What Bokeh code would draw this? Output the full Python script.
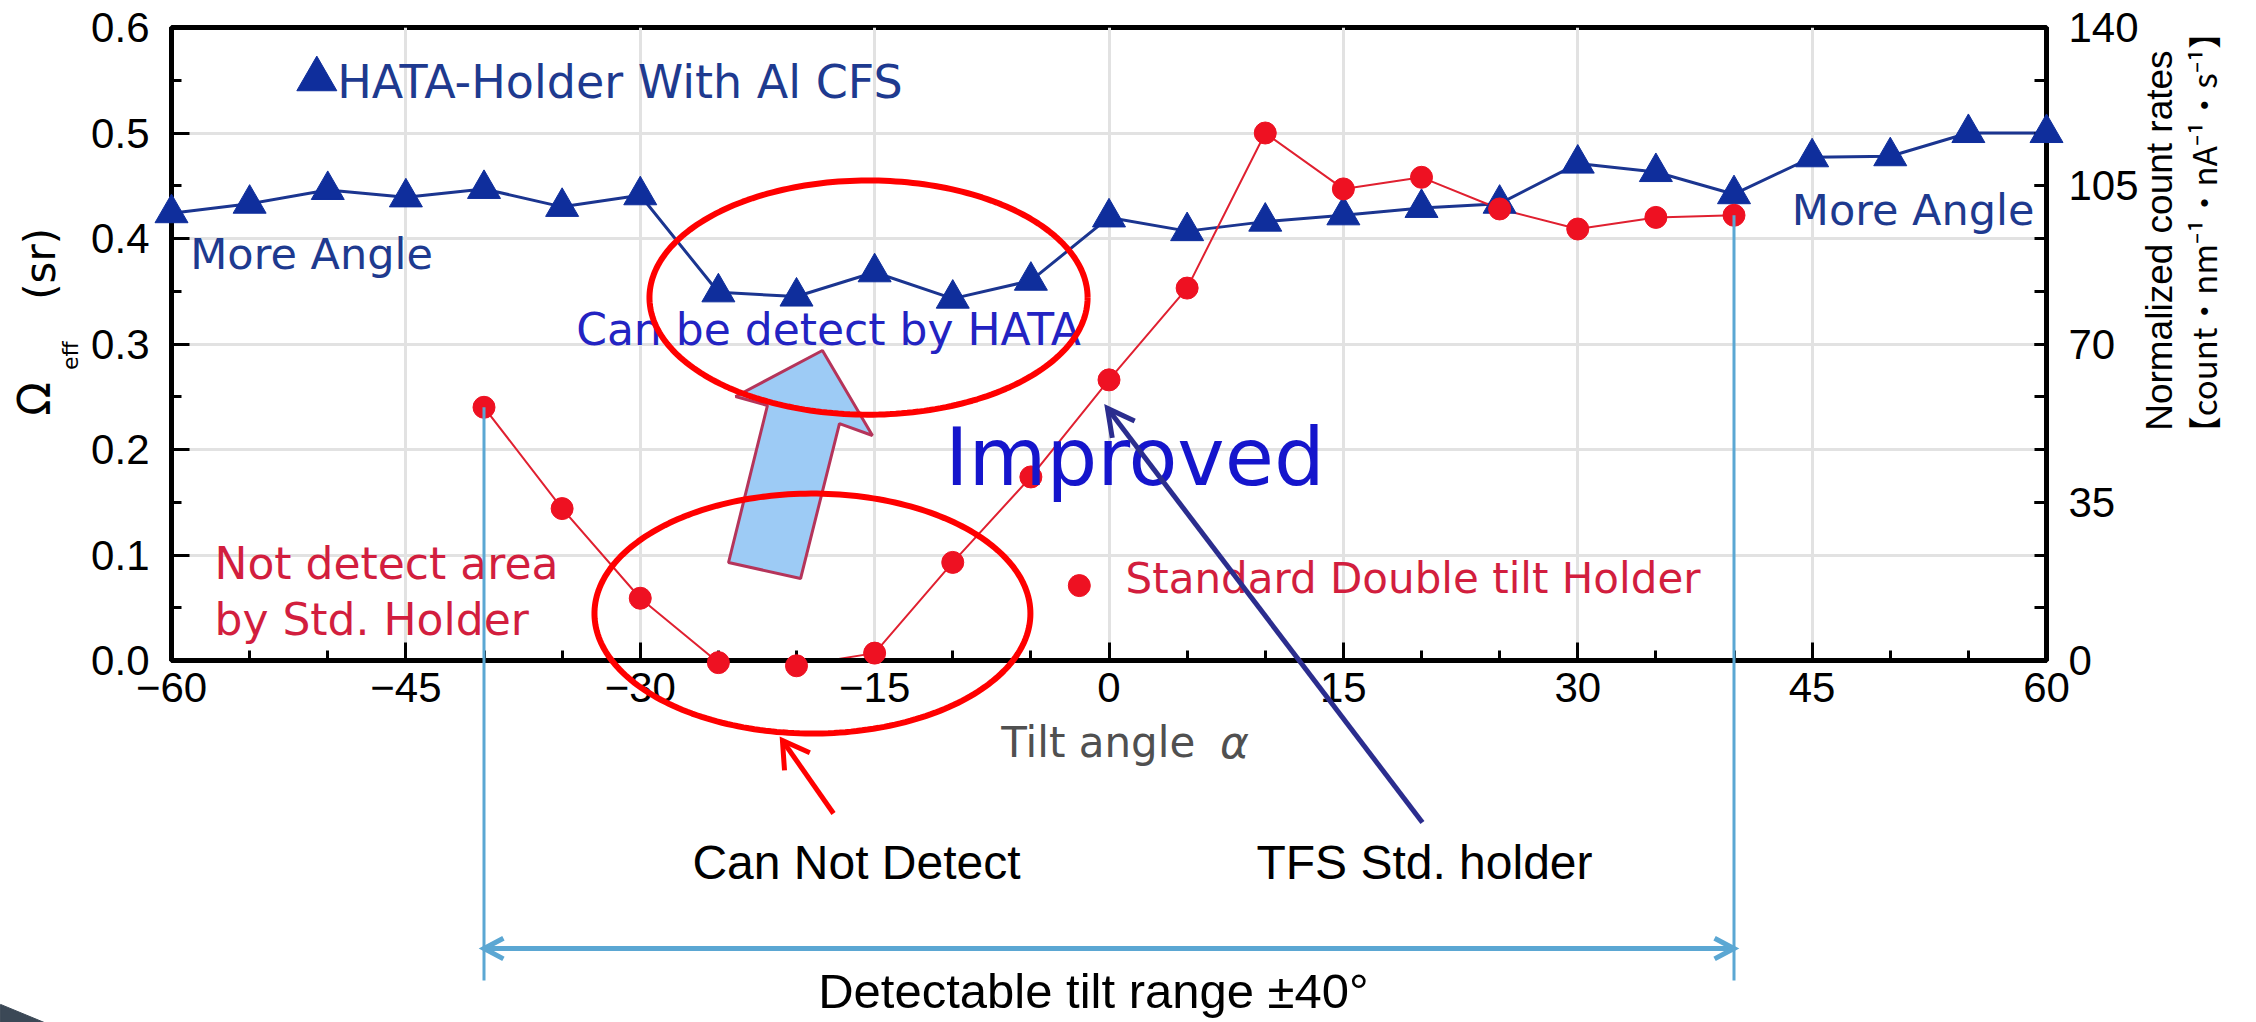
import numpy as np
from bokeh.plotting import figure
from bokeh.models import Range1d, LinearAxis, FixedTicker, NumeralTickFormatter
from bokeh.core.properties import value
from bokeh.embed import file_html
from bokeh.resources import INLINE

# ---------------- data ----------------
angles_hata = [-60, -55, -50, -45, -40, -35, -30, -25, -20, -15, -10, -5, 0,
               5, 10, 15, 20, 25, 30, 35, 40, 45, 50, 55, 60]
omega_hata = [0.424, 0.433, 0.446, 0.439, 0.447, 0.430, 0.441, 0.349, 0.345, 0.368,
              0.343, 0.360, 0.420, 0.407, 0.416, 0.422, 0.429, 0.433, 0.471, 0.463,
              0.442, 0.477, 0.478, 0.500, 0.500]

angles_std = [-40, -35, -30, -25, -20, -15, -10, -5, 0, 5, 10, 15, 20, 25, 30, 35, 40]
omega_std = [0.240, 0.144, 0.059, -0.002, -0.005, 0.007, 0.093, 0.174, 0.266, 0.353,
             0.500, 0.447, 0.458, 0.428, 0.409, 0.420, 0.422]

x_ticks = [-60, -45, -30, -15, 0, 15, 30, 45, 60]
x_tick_labels = ["\u221260", "\u221245", "\u221230", "\u221215", "0", "15", "30", "45", "60"]
y_ticks = [0.0, 0.1, 0.2, 0.3, 0.4, 0.5, 0.6]
right_ticks = [0, 35, 70, 105, 140]

HATA_BLUE = "#0f2e9c"
NAVY_TEXT = "#1e3a8f"
RED = "#ee1122"
RED_TEXT = "#d21e3e"
LIGHT_BLUE = "#5ba7d3"

FRAME_W, FRAME_H = 1875, 633
p = figure(frame_width=FRAME_W, frame_height=FRAME_H,
           x_range=Range1d(-60, 60), y_range=Range1d(0, 0.6),
           output_backend="svg", toolbar_location=None, title=None,
           min_border_left=171, min_border_right=194, min_border_top=27,
           min_border_bottom=362, background_fill_color="white",
           border_fill_color="white")
p.extra_y_ranges = {"right": Range1d(0, 140)}

p.outline_line_color = "black"
p.outline_line_width = 5

# grids
p.xgrid.ticker = FixedTicker(ticks=x_ticks)
p.ygrid.ticker = FixedTicker(ticks=y_ticks)
for g in (p.xgrid, p.ygrid):
    g.grid_line_color = "#e2e2e2"
    g.grid_line_width = 3

def style_axis(ax, standoff):
    ax.axis_line_width = 5
    ax.axis_line_color = "black"
    ax.major_tick_in = 18
    ax.major_tick_out = 0
    ax.minor_tick_in = 10
    ax.minor_tick_out = 0
    ax.major_tick_line_width = 3
    ax.minor_tick_line_width = 3
    ax.major_label_text_font = "Liberation Sans"
    ax.major_label_text_font_size = "42px"
    ax.major_label_text_color = "black"
    ax.major_label_standoff = standoff

xa = p.xaxis[0]
xa.ticker = FixedTicker(ticks=x_ticks, minor_ticks=list(range(-60, 61, 5)))
xa.major_label_overrides = {t: l for t, l in zip(x_ticks, x_tick_labels)}
style_axis(xa, 12)

ya = p.yaxis[0]
ya.ticker = FixedTicker(ticks=y_ticks, minor_ticks=[i * 0.05 for i in range(13)])
ya.formatter = NumeralTickFormatter(format="0.0")
style_axis(ya, 22)

ra = LinearAxis(y_range_name="right",
                ticker=FixedTicker(ticks=right_ticks, minor_ticks=[140 * i / 12 for i in range(13)]))
style_axis(ra, 22)
ra.minor_tick_in = 12
ra.major_tick_in = 12
p.add_layout(ra, "right")

# ---------------- series ----------------
p.line(angles_hata, omega_hata, line_color="#1b3590", line_width=3)
p.line(angles_std, omega_std, line_color="#e02030", line_width=2)
p.scatter(angles_hata, omega_hata, marker="triangle", size=33,
          fill_color=HATA_BLUE, line_color=HATA_BLUE, level="overlay")
p.scatter(angles_std, omega_std, marker="circle", size=22, fill_color=RED, line_color=RED,
          level="overlay")

# ---------------- annotation helpers ----------------
PX_X = FRAME_W / 120.0   # pixels per degree
PX_Y = FRAME_H / 0.6     # pixels per unit

def txt(x, y, s, size, color, font="DejaVu Sans", align="left", baseline="middle",
        angle=0.0, style="normal"):
    p.text(x=[x], y=[y], text=[s], text_font=value(font), text_font_size=value(f"{size}px"),
           text_color=color, text_align=align, text_baseline=baseline, angle=angle,
           text_font_style=style, level="overlay")

def head_pts(xs, ys, xe, ye, length, half_angle_deg):
    p0 = np.array([xs * PX_X, ys * PX_Y])
    p1 = np.array([xe * PX_X, ye * PX_Y])
    u = (p0 - p1) / np.linalg.norm(p0 - p1)
    a = np.radians(half_angle_deg)
    pts = []
    for s in (1, -1):
        c, sn = np.cos(s * a), np.sin(s * a)
        v = np.array([c * u[0] - sn * u[1], sn * u[0] + c * u[1]])
        pts.append(p1 + length * v)
    hx = [pts[0][0] / PX_X, xe, pts[1][0] / PX_X]
    hy = [pts[0][1] / PX_Y, ye, pts[1][1] / PX_Y]
    return hx, hy

def arrow(xs, ys, xe, ye, color, width, length, half_angle, both=False):
    p.line([xs, xe], [ys, ye], line_color=color, line_width=width, level="overlay")
    hx, hy = head_pts(xs, ys, xe, ye, length, half_angle)
    p.line(hx, hy, line_color=color, line_width=width, line_join="miter", level="overlay")
    if both:
        hx, hy = head_pts(xe, ye, xs, ys, length, half_angle)
        p.line(hx, hy, line_color=color, line_width=width, line_join="miter", level="overlay")

# legend-like texts
p.scatter([-50.7], [0.551], marker="triangle", size=40, fill_color=HATA_BLUE,
          line_color=HATA_BLUE, level="overlay")
txt(-49.4, 0.5488, "HATA-Holder With Al CFS", 46, NAVY_TEXT)
txt(-58.8, 0.3853, "More Angle", 43, NAVY_TEXT)
txt(43.7, 0.427, "More Angle", 43, NAVY_TEXT)
txt(-34.1, 0.3137, "Can be detect by HATA", 44, "#2323c2")
txt(-10.5, 0.192, "Improved", 80, "#1515cc")
txt(-57.25, 0.0915, "Not detect area", 44, RED_TEXT)
txt(-57.25, 0.0389, "by Std. Holder", 44, RED_TEXT)
p.scatter([-1.9], [0.071], marker="circle", size=22, fill_color=RED, line_color=RED,
          level="overlay")
txt(1.06, 0.0777, "Standard Double tilt Holder", 42, RED_TEXT)

# axis titles
txt(-6.9, -0.0773, "Tilt angle", 42, "#505050")
txt(7.1, -0.0773, "\u03b1", 44, "#505050", style="italic")
txt(-68.77, 0.248, "\u03a9", 44, "black", align="center", angle=np.pi / 2)
txt(-66.46, 0.289, "eff", 22, "black", align="center", angle=np.pi / 2)
txt(-68.38, 0.376, "(sr)", 42, "black", align="center", angle=np.pi / 2)
txt(67.2, 0.398, "Normalized count rates", 37, "black", font="Liberation Sans",
    align="center", angle=np.pi / 2)
txt(70.0, 0.4057, "\u3010count\u30fbnm\u207b\u00b9\u30fbnA\u207b\u00b9\u30fbs\u207b\u00b9\u3011", 33,
    "black", font="Noto Sans CJK JP", align="center", angle=np.pi / 2)

# block arrow (light blue)
p.patch([-18.34, -15.14, -17.25, -19.74, -24.35, -21.86, -23.9],
        [0.2938, 0.2133, 0.2246, 0.0777, 0.0929, 0.2417, 0.2502],
        fill_color="#9dcbf5", line_color="#b5345a", line_width=3, level="overlay")

# red ellipses
t = np.linspace(0, 2 * np.pi, 240)
for cx, cy, rx, ry in [(-15.39, 0.344, 14.02, 0.111), (-18.98, 0.0445, 13.95, 0.1137)]:
    p.line(list(cx + rx * np.cos(t)), list(cy + ry * np.sin(t)),
           line_color="#ff0000", line_width=6, level="overlay")

# arrows to the bottom texts
arrow(-17.63, -0.145, -20.9, -0.0758, "#ff0000", 5, 30, 31)
arrow(20.06, -0.1536, -0.1, 0.239, "#2b2d8e", 5, 30, 28)

# detectable range markers
for xv, yv in [(-40, 0.240), (40, 0.422)]:
    p.line([xv, xv], [yv, -0.3033], line_color=LIGHT_BLUE, line_width=3, level="overlay")
arrow(-40, -0.273, 40, -0.273, LIGHT_BLUE, 5, 22, 28, both=True)

txt(-16.16, -0.191, "Can Not Detect", 48, "black", font="Liberation Sans", align="center")
txt(20.19, -0.191, "TFS Std. holder", 48, "black", font="Liberation Sans", align="center")
txt(-1.0, -0.3137, "Detectable tilt range \u00b140\u00b0", 49, "black", font="Liberation Sans",
    align="center")

# slide decoration in the bottom-left corner
p.patch([-70.94, -68.0, -70.94], [-0.326, -0.344, -0.344], fill_color="#3b4856",
        line_color="#3b4856", level="overlay")

open("out.html", "w").write(file_html(p, INLINE))
